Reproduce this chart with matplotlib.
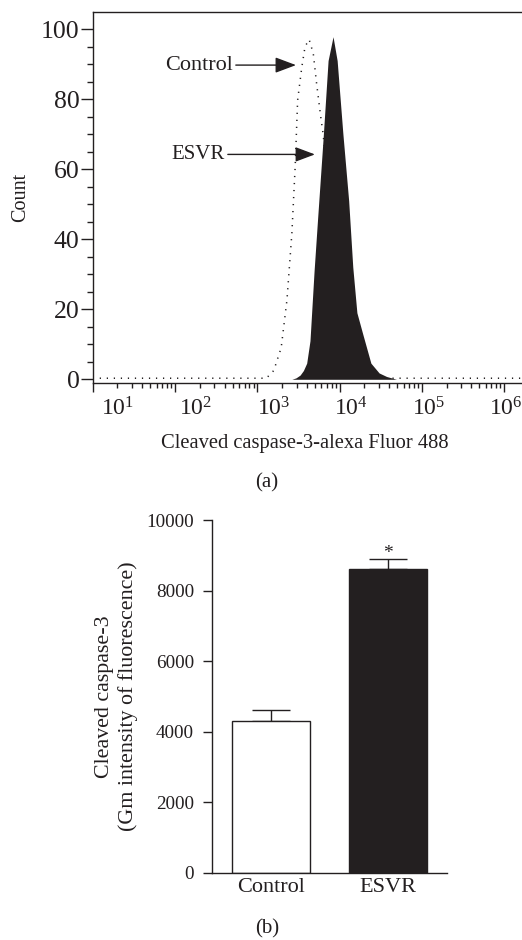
"""
Cleaved caspase-3 flow cytometry: histogram overlay (a) and
geometric mean fluorescence bar chart (b).
"""

import numpy as np
import matplotlib
matplotlib.use("Agg")
import matplotlib.pyplot as plt
from matplotlib.ticker import LogLocator, MultipleLocator, NullFormatter

plt.rcParams["font.family"] = "Liberation Serif"
plt.rcParams["mathtext.fontset"] = "custom"
plt.rcParams["mathtext.rm"] = "Liberation Serif"

INK = "#231f20"

# (a) histogram, x as log10 of fluorescence intensity
control_log = [1.0, 3.11, 3.20, 3.29, 3.36, 3.42, 3.46, 3.49, 3.54, 3.58, 3.63,
               3.68, 3.72, 3.77, 3.80, 3.86, 3.95, 4.05, 4.15, 4.30, 4.50, 6.22]
control_count = [0.3, 0.3, 2.5, 9, 22.6, 41.7, 60.7, 79.7, 89, 95, 97,
                 93, 84.5, 75, 70, 55, 32, 12, 4, 1, 0.3, 0.3]
esvr_log = [3.42, 3.47, 3.52, 3.56, 3.60, 3.64, 3.69, 3.73, 3.80, 3.86, 3.92, 3.97,
            4.04, 4.11, 4.16, 4.21, 4.28, 4.38, 4.48, 4.57, 4.69]
esvr_count = [0, 0.4, 1.2, 2.5, 4.6, 11, 31, 45, 69, 91, 97.8, 91,
              70, 51, 32, 19, 13, 4.6, 1.8, 0.8, 0]
decades = [1, 2, 3, 4, 5, 6]

# (b) bar chart
groups = ["Control", "ESVR"]
gm_mean = [4316, 8614]
gm_sem = [304, 284]
bar_colors = ["white", INK]

fig = plt.figure(figsize=(5.22, 9.4), dpi=100)

# ---- (a) ----
ax1 = fig.add_axes([0.1776, 0.5929, 0.8224, 0.394])
ax1.plot(10 ** np.array(control_log), control_count, color=INK, lw=1.1,
         linestyle=(0, (0.8, 3.8)), zorder=1)
ax1.fill_between(10 ** np.array(esvr_log), esvr_count, 0, color=INK, lw=0, zorder=2)

ax1.set_xscale("log")
ax1.set_xlim(10, 10 ** 6.216)
ax1.set_ylim(-0.97, 104.77)
ax1.xaxis.set_major_locator(LogLocator(base=10, numticks=10))
ax1.xaxis.set_minor_locator(LogLocator(base=10, subs=np.arange(2, 10), numticks=20))
ax1.xaxis.set_major_formatter(NullFormatter())
ax1.xaxis.set_minor_formatter(NullFormatter())
ax1.yaxis.set_major_locator(MultipleLocator(20))
ax1.yaxis.set_minor_locator(MultipleLocator(5))
ax1.spines["right"].set_visible(False)
for s in ax1.spines.values():
    s.set_color(INK)
    s.set_linewidth(1)
ax1.tick_params(axis="y", which="major", length=8.6, width=1, color=INK,
                labelsize=18.5, labelcolor=INK, pad=0.8)
ax1.tick_params(axis="y", which="minor", length=4.3, width=1, color=INK)
ax1.tick_params(axis="x", which="major", length=6.5, width=1, color=INK)
ax1.tick_params(axis="x", which="minor", length=3.4, width=1, color=INK)

# decade labels sit a little right of their ticks in the original
for d, xpos in zip(decades, np.linspace(0.059, 0.963, len(decades))):
    ax1.text(xpos, -0.0895, r"$\mathregular{10^{%d}}$" % d, transform=ax1.transAxes,
             ha="center", va="baseline", fontsize=17, color=INK)

arrow = dict(arrowstyle="-|>,head_length=0.8,head_width=0.3",
             color=INK, lw=1, shrinkA=0, shrinkB=0)
ax1.annotate("Control", xy=(10 ** 3.47, 89.7), xytext=(10 ** 2.705, 89.7),
             ha="right", va="center", fontsize=16, color=INK, arrowprops=arrow)
ax1.annotate("ESVR", xy=(10 ** 3.70, 64.2), xytext=(10 ** 2.608, 64.2),
             ha="right", va="center", fontsize=15, color=INK, arrowprops=arrow)

ax1.set_ylabel("Count", fontsize=14.5, color=INK)
ax1.yaxis.set_label_coords(-0.169, 0.5)
ax1.yaxis.label.set_va("center")
ax1.set_xlabel("Cleaved caspase-3-alexa Fluor 488", fontsize=14.8, color=INK)
ax1.xaxis.set_label_coords(0.495, -0.163)
ax1.xaxis.label.set_va("center")

fig.text(267 / 522, 1 - 483 / 940, "(a)", ha="center", va="center", fontsize=15, color=INK)

# ---- (b) ----
ax2 = fig.add_axes([0.4067, 0.0716, 0.449, 0.3747])
x = np.arange(len(groups))
ax2.bar(x, gm_mean, width=0.662, color=bar_colors, edgecolor=INK, linewidth=1, zorder=2)
ax2.errorbar(x, gm_mean, yerr=[[0, 0], gm_sem], fmt="none", ecolor=INK,
             elinewidth=1, capsize=13.7, capthick=1, zorder=1)
ax2.text(x[1], gm_mean[1] + gm_sem[1] + 30, "*", ha="center", va="baseline",
         fontsize=14, color=INK)

ax2.set_xlim(-0.503, 1.5)
ax2.set_ylim(0, 10000)
ax2.set_yticks(np.arange(0, 10001, 2000))
ax2.set_xticks(x)
ax2.set_xticklabels(groups)
ax2.spines["top"].set_visible(False)
ax2.spines["right"].set_visible(False)
for s in ax2.spines.values():
    s.set_color(INK)
    s.set_linewidth(1)
ax2.tick_params(axis="y", length=6.5, width=1, color=INK, labelsize=13.8,
                labelcolor=INK, pad=6.7)
ax2.tick_params(axis="x", length=0, labelsize=16, labelcolor=INK, pad=3.6)

ax2.set_ylabel("Cleaved caspase-3\n(Gm intensity of fluorescence)", fontsize=15.8,
               color=INK, linespacing=1.25, ha="center")
ax2.yaxis.set_label_coords(-0.41, 0.5)
ax2.yaxis.label.set_va("center")

fig.text(267 / 522, 1 - 929 / 940, "(b)", ha="center", va="center", fontsize=15, color=INK)

fig.savefig("out.png", dpi=100)
